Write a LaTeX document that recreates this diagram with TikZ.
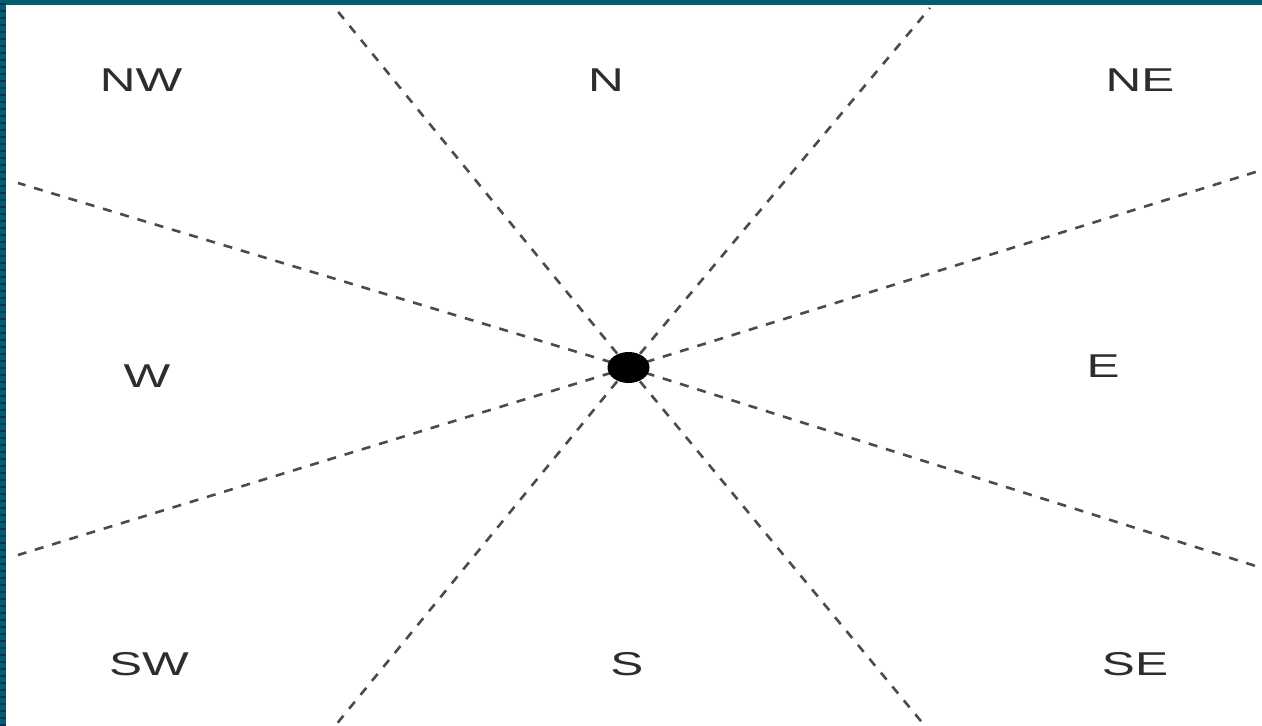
\documentclass[tikz,border=0pt]{standalone}
\usepackage{fontspec}
\usepackage{graphicx}
\setmainfont{Liberation Sans}
\usetikzlibrary{shapes.geometric}
\definecolor{frame}{RGB}{0,96,112}
\definecolor{framedark}{RGB}{10,50,90}
\definecolor{ink}{RGB}{45,45,45}
\definecolor{dashink}{RGB}{75,75,75}
\newcommand{\wide}[1]{\scalebox{1.5}[1]{#1}}
\begin{document}
\begin{tikzpicture}[x=1pt,y=-1pt,
  dir/.style={font=\fontsize{33}{33}\selectfont, text=ink, inner sep=0pt},
  ray/.style={draw=dashink, line width=2.6pt, dash pattern=on 9pt off 9pt},
  hub/.style={ellipse, fill=black, minimum width=42pt, minimum height=31pt, inner sep=0pt}]
\useasboundingbox (0,0) rectangle (1262,726);
\fill[white] (0,0) rectangle (1262,726);
% frame bands
\fill[frame] (0,0) rectangle (1262,5);
\fill[frame] (0,0) rectangle (6,726);
\foreach \y in {3,10,...,726} { \fill[framedark] (0,\y) rectangle (6,\y+1.5); }
% ray ends
\coordinate (tl) at (335,8);
\coordinate (tr) at (930,8);
\coordinate (lu) at (18,183);
\coordinate (ru) at (1262,170);
\coordinate (ll) at (18,555);
\coordinate (rl) at (1262,568);
\coordinate (bl) at (335,726);
\coordinate (br) at (925,726);
\coordinate (c) at (628.5,367.5);
\foreach \e in {tl,tr,lu,ru,ll,rl,bl,br} { \draw[ray] (c) -- (\e); }
\node[hub] (hub) at (c) {};
% labels
\node[dir] (nw) at (141,80) {\wide{NW}};
\node[dir] (n) at (606,80) {\wide{N}};
\node[dir] (ne) at (1140,80) {\wide{NE}};
\node[dir] (w) at (147,376) {\wide{W}};
\node[dir] (e) at (1103,366) {\wide{E}};
\node[dir] (sw) at (149,664) {\wide{SW}};
\node[dir] (s) at (627,664) {\wide{S}};
\node[dir] (se) at (1135,664) {\wide{SE}};
\end{tikzpicture}
\end{document}
